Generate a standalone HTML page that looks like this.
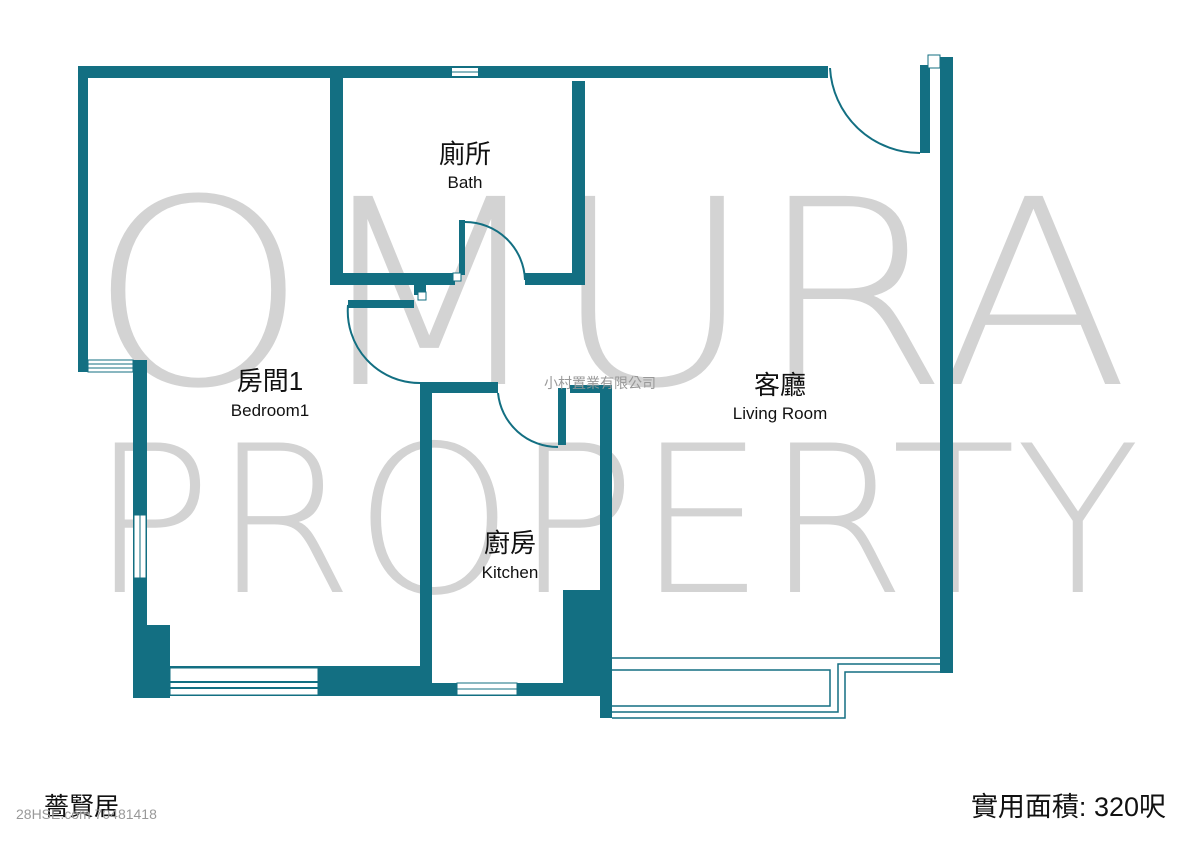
<!DOCTYPE html>
<html><head><meta charset="utf-8"><style>
html,body{margin:0;padding:0;background:#fff;width:1200px;height:848px;overflow:hidden}
svg{display:block}
</style></head><body>
<svg width="1200" height="848" viewBox="0 0 1200 848" xmlns="http://www.w3.org/2000/svg">
<g fill="#d3d3d3" font-family="DejaVu Sans, Liberation Sans, sans-serif" font-weight="200">
<text x="88" y="384" font-size="258" textLength="1042" lengthAdjust="spacingAndGlyphs">OMURA</text>
<text x="90" y="592" font-size="205" textLength="1050" lengthAdjust="spacingAndGlyphs">PROPERTY</text>
</g>
<g fill="#136f82">
<rect x="78" y="66" width="750" height="12"/>
<rect x="78" y="66" width="10" height="306"/>
<rect x="88" y="360" width="45" height="12" fill="#fff" stroke="#136f82" stroke-width="1"/>
<line x1="88" y1="364" x2="133" y2="364" stroke="#136f82"/><line x1="88" y1="368" x2="133" y2="368" stroke="#136f82"/>
<rect x="133" y="360" width="14" height="338"/>
<rect x="134" y="515" width="12" height="63" fill="#fff" stroke="#136f82"/>
<line x1="140" y1="515" x2="140" y2="578" stroke="#136f82"/>
<rect x="133" y="625" width="37" height="73"/>
<rect x="133" y="666" width="475" height="30"/>
<rect x="170" y="668" width="148" height="27" fill="#fff" stroke="#136f82"/>
<line x1="170" y1="682" x2="318" y2="682" stroke="#136f82" stroke-width="2"/><line x1="170" y1="688" x2="318" y2="688" stroke="#136f82" stroke-width="2"/>
<rect x="432" y="666" width="131" height="17" fill="#fff"/>
<rect x="457" y="683" width="60" height="12" fill="#fff" stroke="#136f82"/>
<line x1="457" y1="689" x2="517" y2="689" stroke="#136f82"/>
<rect x="420" y="382" width="12" height="310"/>
<rect x="420" y="382" width="78" height="11"/>
<rect x="600" y="385" width="12" height="333"/>
<rect x="570" y="385" width="42" height="8"/>
<rect x="558" y="388" width="8" height="57"/>
<rect x="563" y="590" width="49" height="100"/>
<rect x="330" y="78" width="13" height="207"/>
<rect x="330" y="273" width="125" height="12"/>
<rect x="572" y="81" width="13" height="204"/>
<rect x="525" y="273" width="60" height="12"/>
<rect x="459" y="220" width="6" height="55"/>
<rect x="453" y="273" width="8" height="8" fill="#fff" stroke="#136f82"/>
<rect x="414" y="285" width="12" height="10"/>
<rect x="418" y="292" width="8" height="8" fill="#fff" stroke="#136f82"/>
<rect x="348" y="300" width="66" height="8"/>
<rect x="452" y="68" width="26" height="8" fill="#fff"/>
<line x1="452" y1="72" x2="478" y2="72" stroke="#136f82"/>
<rect x="940" y="57" width="13" height="616"/>
<rect x="920" y="65" width="10" height="88"/>
<rect x="928" y="55" width="12" height="13" fill="#fff" stroke="#136f82"/>
</g>
<g fill="none" stroke="#136f82" stroke-width="2">
<path d="M465 222 A60 60 0 0 1 525 280"/>
<path d="M348 305 A72 72 0 0 0 420 383"/>
<path d="M498 393 A60 60 0 0 0 558 447"/>
<path d="M830 68 A90 90 0 0 0 920 153"/>
<path d="M612 658 H940 M612 670 H830 V706 H612 M612 712 H838 V664 H940 M612 718 H845 V672 H940" stroke-width="1.5"/>
</g>
<g font-family="Liberation Sans, 'Noto Sans CJK TC', sans-serif" fill="#111" text-anchor="middle">
<text x="465" y="163" font-size="26">廁所</text>
<text x="465" y="188" font-size="17">Bath</text>
<text x="270" y="390" font-size="26">房間1</text>
<text x="270" y="416" font-size="17">Bedroom1</text>
<text x="780" y="394" font-size="26">客廳</text>
<text x="780" y="419" font-size="17">Living Room</text>
<text x="510" y="552" font-size="26">廚房</text>
<text x="510" y="578" font-size="17">Kitchen</text>
<text x="600" y="388" font-size="14" fill="#999">小村置業有限公司</text>
</g>
<g font-family="Liberation Sans, 'Noto Sans CJK TC', sans-serif">
<text x="44" y="815" font-size="25" fill="#111">薔賢居</text>
<text x="16" y="819" font-size="14" fill="#999">28HSE.com 70481418</text>
<text x="1166" y="816" font-size="27" fill="#111" text-anchor="end">實用面積: 320呎</text>
</g>
</svg>
</body></html>
